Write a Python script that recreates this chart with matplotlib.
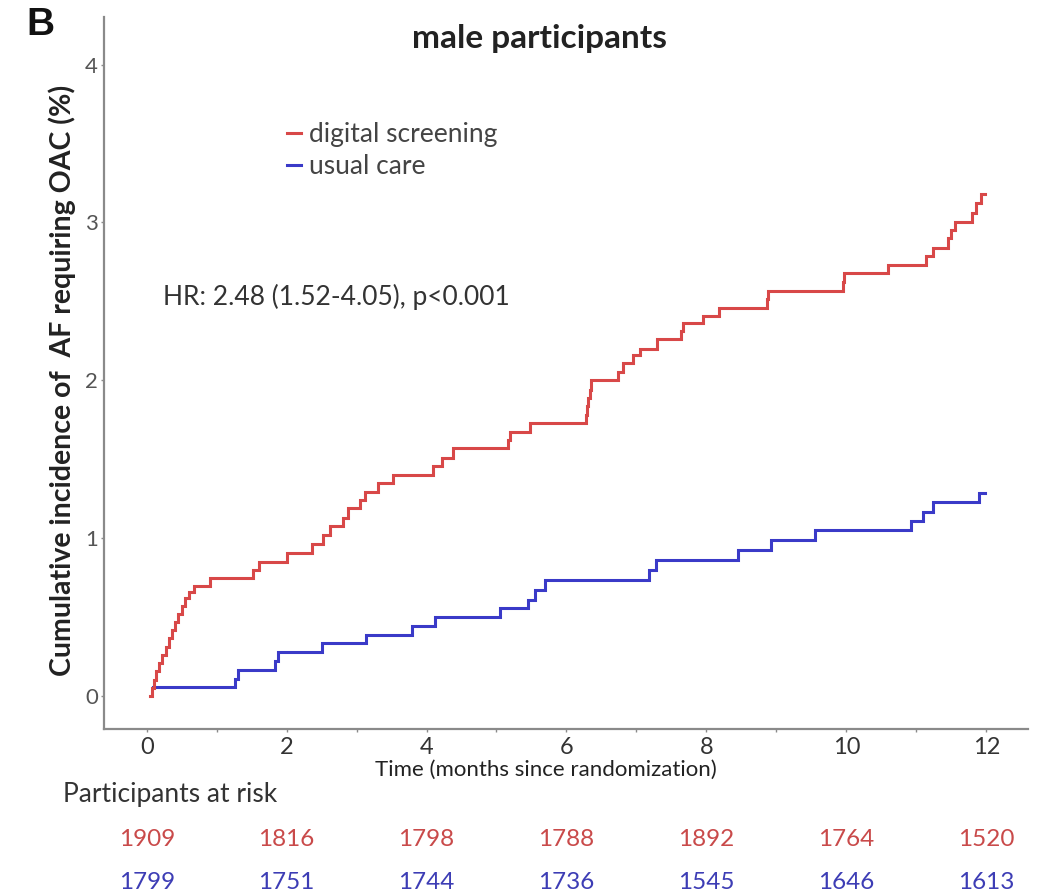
import matplotlib
matplotlib.use("Agg")
import matplotlib.pyplot as plt
from matplotlib.ticker import MultipleLocator

plt.rcParams['font.family'] = ['Lato', 'DejaVu Sans']

# Cumulative incidence (%) of AF requiring OAC, step events (months, %)
screen_t = [0.05, 0.08, 0.11, 0.13, 0.18, 0.22, 0.27, 0.32, 0.36, 0.40, 0.45,
            0.50, 0.55, 0.61, 0.67, 0.90, 1.52, 1.60, 2.00, 2.36, 2.52, 2.62,
            2.80, 2.88, 3.05, 3.12, 3.30, 3.52, 4.09, 4.22, 4.38, 5.16, 5.20,
            5.48, 6.28, 6.30, 6.31, 6.33, 6.35, 6.73, 6.81, 6.95, 7.05, 7.30,
            7.64, 7.66, 7.95, 8.18, 8.86, 8.88, 9.95, 9.97, 10.60, 11.14, 11.24,
            11.45, 11.50, 11.55, 11.79, 11.86, 11.93, 11.98]
screen_y = [0.00, 0.05, 0.10, 0.16, 0.21, 0.26, 0.31, 0.37, 0.42, 0.47, 0.52,
            0.57, 0.62, 0.66, 0.70, 0.75, 0.80, 0.85, 0.905, 0.96, 1.02, 1.075,
            1.13, 1.19, 1.24, 1.29, 1.35, 1.40, 1.455, 1.51, 1.57, 1.62, 1.675,
            1.73, 1.78, 1.84, 1.89, 1.94, 2.00, 2.05, 2.11, 2.16, 2.20, 2.26,
            2.31, 2.36, 2.41, 2.46, 2.515, 2.565, 2.62, 2.68, 2.73, 2.79, 2.84,
            2.90, 2.95, 3.00, 3.06, 3.12, 3.18, 3.18]

usual_t = [0.09, 1.26, 1.30, 1.83, 1.88, 2.50, 3.14, 3.79, 4.12, 5.05,
           5.45, 5.55, 5.70, 7.18, 7.28, 8.45, 8.93, 9.55, 10.93, 11.09, 11.24,
           11.90, 11.98]
usual_y = [0.056, 0.111, 0.167, 0.222, 0.278, 0.333, 0.389, 0.444, 0.50,
           0.556, 0.61, 0.67, 0.734, 0.80, 0.86, 0.924, 0.987, 1.05, 1.11,
           1.166, 1.23, 1.285, 1.285]

# Participants at risk
risk_times = [0, 2, 4, 6, 8, 10, 12]
risk_screen = [1909, 1816, 1798, 1788, 1892, 1764, 1520]
risk_usual = [1799, 1751, 1744, 1736, 1545, 1646, 1613]

RED = '#d84848'
BLUE = '#3a3ac8'
RED_TXT = '#c94a4a'
BLUE_TXT = '#3d3db5'
SPINE = '#8a8a8a'

fig = plt.figure(figsize=(10.4, 8.92), dpi=100)
ax = fig.add_axes([0.1, 0.1827, 0.888, 0.798])

h_usual, = ax.step(usual_t, usual_y, where='post', color=BLUE, lw=2.2,
                   label='usual care', solid_joinstyle='miter')
h_screen, = ax.step(screen_t, screen_y, where='post', color=RED, lw=2.2,
                    label='digital screening', solid_joinstyle='miter')

ax.set_xlim(-0.61, 12.59)
ax.set_ylim(-0.209, 4.30)

for side in ('top', 'right'):
    ax.spines[side].set_visible(False)
for side in ('left', 'bottom'):
    ax.spines[side].set_color(SPINE)
    ax.spines[side].set_linewidth(1.6)

ax.xaxis.set_major_locator(MultipleLocator(2))
ax.xaxis.set_minor_locator(MultipleLocator(1))
ax.set_yticks([0, 1, 2, 3, 4])
ax.tick_params(axis='both', which='both', length=2.5, width=1.0, color=SPINE)
ax.tick_params(axis='x', which='major', labelsize=17, labelcolor='#333333', pad=3)
ax.tick_params(axis='y', which='major', labelsize=16, labelcolor='#555555', pad=2)

leg = ax.legend(handles=[h_screen, h_usual], loc='upper left',
                bbox_to_anchor=(0.198, 0.853), frameon=False,
                fontsize=19, handlelength=0.55, handletextpad=0.3,
                labelspacing=0.28, borderpad=0, borderaxespad=0)
for txt in leg.get_texts():
    txt.set_color('#444444')

ax.text(0.064, 0.607, 'HR: 2.48 (1.52-4.05), p<0.001', transform=ax.transAxes,
        ha='left', va='center', fontsize=19, color='#333333')

fig.text(0.025, 0.972, 'B', fontsize=28, fontweight='bold', ha='left', va='center',
         family=['Liberation Sans', 'DejaVu Sans'], color='#111111')
fig.text(0.519, 0.957, 'male participants', fontsize=24, fontweight='bold',
         ha='center', va='center', color='#222222')
fig.text(0.0596, 0.574, 'Cumulative incidence of  AF requiring OAC (%)', rotation=90,
         fontsize=20.5, fontweight='bold', ha='center', va='center', color='#222222')
fig.text(0.525, 0.137, 'Time (months since randomization)', fontsize=16,
         ha='center', va='center', color='#222222')
fig.text(0.0606, 0.109, 'Participants at risk', fontsize=19, ha='left',
         va='center', color='#333333')

xt = ax.get_xaxis_transform()
for t, a, b in zip(risk_times, risk_screen, risk_usual):
    ax.text(t, -0.1545, str(a), transform=xt, ha='center', va='center',
            fontsize=17.5, color=RED_TXT, clip_on=False)
    ax.text(t, -0.215, str(b), transform=xt, ha='center', va='center',
            fontsize=17.5, color=BLUE_TXT, clip_on=False)

fig.savefig('out.png', dpi=100, facecolor='white')
